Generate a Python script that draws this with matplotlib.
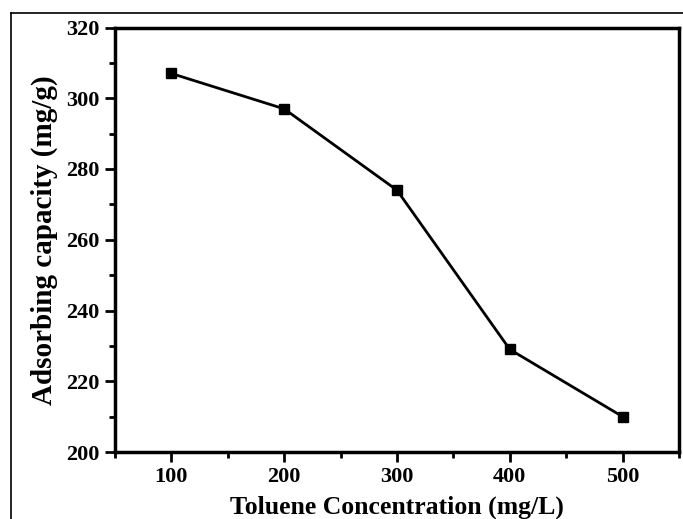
import matplotlib.pyplot as plt
from matplotlib.lines import Line2D
from matplotlib.ticker import MultipleLocator

# Toluene concentration vs adsorbing capacity
concentration = [100, 200, 300, 400, 500]
capacity = [307, 297, 274, 229, 210]

plt.rcParams["font.family"] = ["Liberation Serif", "DejaVu Serif"]
plt.rcParams["font.weight"] = "bold"

fig = plt.figure(figsize=(6.83, 5.19), dpi=100)
ax = fig.add_axes([115 / 683, 1 - 452 / 519, (679 - 115) / 683, (452 - 27.5) / 519])

ax.plot(concentration, capacity, color="black", linewidth=2,
        marker="s", markersize=7)

ax.set_xlim(50, 550)
ax.set_ylim(200, 320)
ax.xaxis.set_major_locator(MultipleLocator(100))
ax.xaxis.set_minor_locator(MultipleLocator(50))
ax.yaxis.set_major_locator(MultipleLocator(20))
ax.yaxis.set_minor_locator(MultipleLocator(10))

ax.tick_params(which="major", direction="out", length=7, width=2,
               labelsize=16, pad=4)
ax.tick_params(which="minor", direction="out", length=4, width=2)
for lab in ax.get_xticklabels() + ax.get_yticklabels():
    lab.set_fontweight("bold")

for s in ax.spines.values():
    s.set_linewidth(2.5)

ax.set_xlabel("Toluene Concentration (mg/L)", fontsize=18.5,
              fontweight="bold", labelpad=6)
ax.set_ylabel("Adsorbing capacity (mg/g)", fontsize=21,
              fontweight="bold", labelpad=6)

# thin outer frame (left and top edges)
x0 = 11 / 683
y0 = 1 - 12.5 / 519
fig.add_artist(Line2D([x0, x0], [0, y0], color="black", linewidth=1.2,
                      transform=fig.transFigure))
fig.add_artist(Line2D([x0, 1], [y0, y0], color="black", linewidth=1.2,
                      transform=fig.transFigure))

fig.savefig("out.png", dpi=100)
